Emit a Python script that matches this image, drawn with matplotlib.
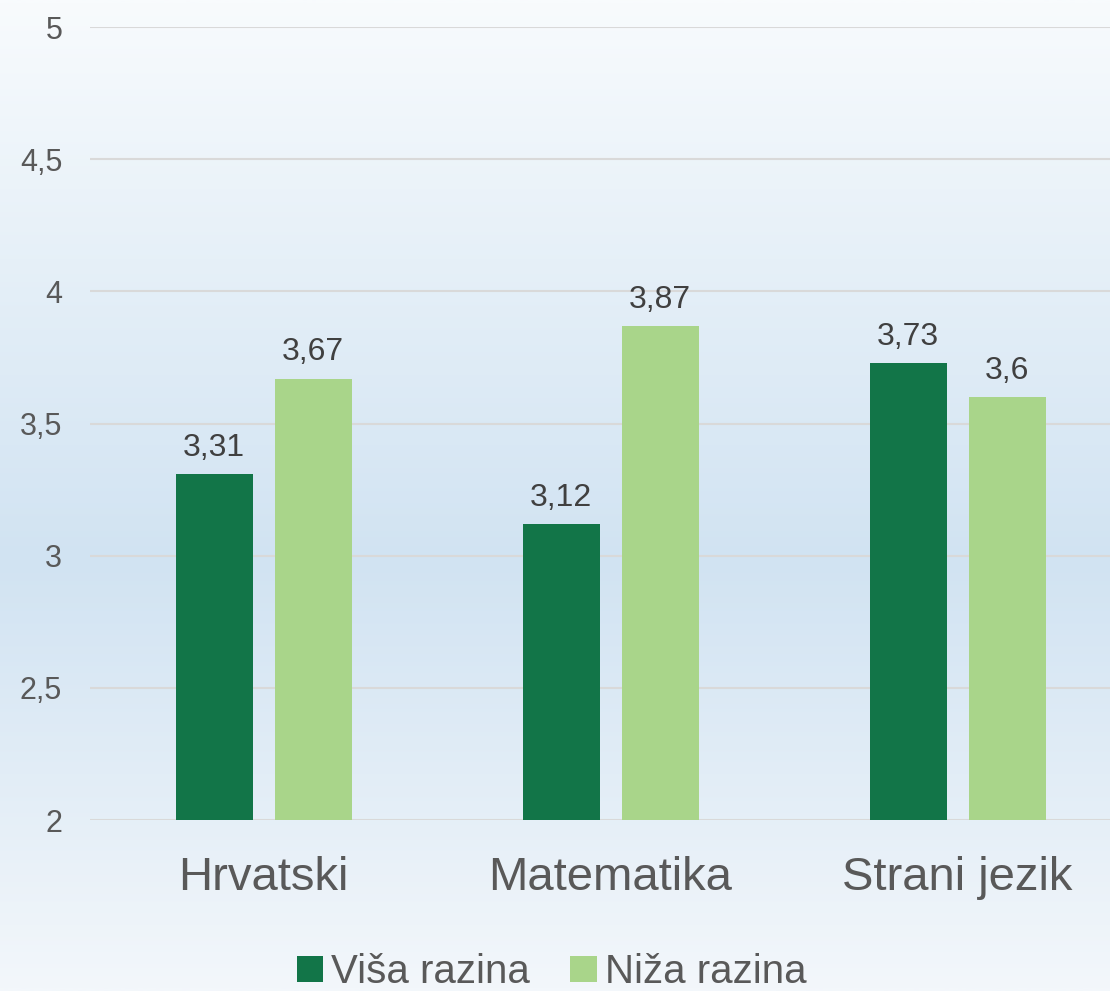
import matplotlib
matplotlib.use("Agg")
import matplotlib.pyplot as plt
import numpy as np
from matplotlib.patches import Patch
from matplotlib.colors import LinearSegmentedColormap

categories = ["Hrvatski", "Matematika", "Strani jezik"]
series_names = ["Viša razina", "Niža razina"]
visa = [3.31, 3.12, 3.73]
niza = [3.67, 3.87, 3.60]
visa_labels = ["3,31", "3,12", "3,73"]
niza_labels = ["3,67", "3,87", "3,6"]
yticks = [2, 2.5, 3, 3.5, 4, 4.5, 5]
ytick_labels = ["2", "2,5", "3", "3,5", "4", "4,5", "5"]

dark = "#127548"
light = "#a9d58a"
txt = "#595959"

plt.rcParams['font.family'] = ['Liberation Sans', 'DejaVu Sans']

W, H = 1110, 991
fig = plt.figure(figsize=(W / 100, H / 100), dpi=100)

# background gradient
bg = fig.add_axes([0, 0, 1, 1], zorder=-10)
cmap = LinearSegmentedColormap.from_list(
    "bg", [(0.0, "#f8fbfd"), (0.565, "#d1e3f2"), (1.0, "#f3f7fb")])
grad = np.linspace(0, 1, 512).reshape(-1, 1)
bg.imshow(grad, aspect="auto", cmap=cmap, extent=[0, 1, 0, 1], origin="upper")
bg.set_axis_off()

left = 90 / W
width = 1041 / W
bottom = 1 - 820 / H
top = 1 - 27 / H
ax = fig.add_axes([left, bottom, width, top - bottom])
ax.patch.set_alpha(0)

x = np.arange(len(categories))
bw = 77 / 347
off = 49.5 / 347
ax.bar(x - off, visa, bw, color=dark, zorder=3)
ax.bar(x + off, niza, bw, color=light, zorder=3)

for xi, v, lab in zip(x - off, visa, visa_labels):
    ax.annotate(lab, (xi, v), xytext=(0, 8), textcoords="offset points",
                ha="center", va="bottom", fontsize=23, color="#404040")
for xi, v, lab in zip(x + off, niza, niza_labels):
    ax.annotate(lab, (xi, v), xytext=(0, 8), textcoords="offset points",
                ha="center", va="bottom", fontsize=23, color="#404040")

ax.set_ylim(2, 5)
ax.set_xlim(-0.5, 2.5)
ax.set_yticks(yticks)
ax.set_yticklabels(ytick_labels, fontsize=22, color=txt)
ax.set_xticks(x)
ax.set_xticklabels(categories, fontsize=34, color=txt)
ax.tick_params(axis="y", length=0, pad=20)
ax.tick_params(axis="x", length=0, pad=26)
ax.grid(axis="y", color="#d9d9d9", linewidth=1.5, zorder=0)
for s in ax.spines.values():
    s.set_visible(False)

handles = [Patch(facecolor=dark), Patch(facecolor=light)]
fig.legend(handles, series_names, loc="center", bbox_to_anchor=(0.497, 0.019),
           ncol=2, frameon=False, fontsize=29, labelcolor=txt,
           handlelength=0.65, handleheight=0.65, handletextpad=0.2, columnspacing=1.0)

fig.savefig("out.png", dpi=100)
